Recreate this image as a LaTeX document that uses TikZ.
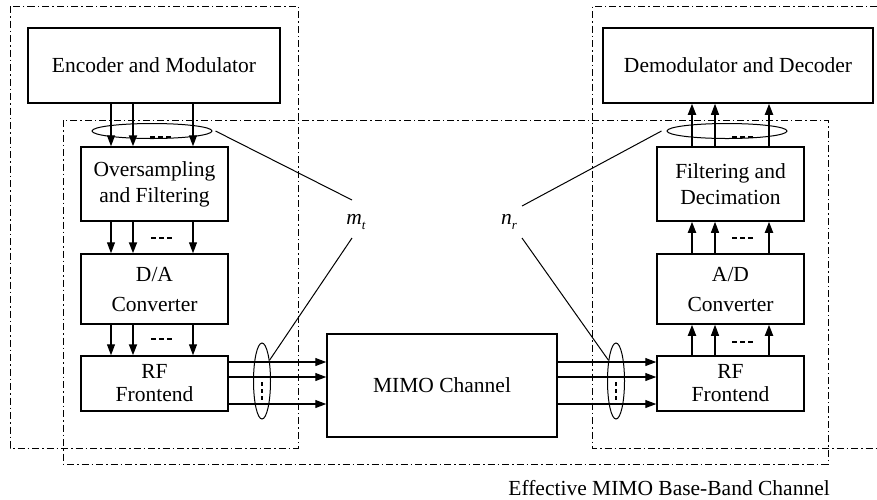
\documentclass[tikz,border=0pt]{standalone}
\usepackage{fontspec}
\setmainfont{Liberation Serif}
\usetikzlibrary{arrows.meta,shapes.geometric}

\tikzset{
  block/.style={draw, line width=1.5pt, inner sep=0pt, align=center,
    font=\fontsize{21.5}{26}\selectfont},
  dashdot/.style={line width=0.9pt, dash pattern=on 7pt off 3pt on 1.5pt off 3pt},
  sig/.style={line width=1.1pt, -{Triangle[length=11pt,width=8pt]}},
  sigthick/.style={sig, line width=1.8pt},
  bundle/.style={draw, ellipse, line width=1pt, inner sep=0pt},
  pointer/.style={line width=1pt},
  dots/.style={line width=2pt, dash pattern=on 5pt off 3pt},
  vdots/.style={line width=2pt, dash pattern=on 4pt off 3pt},
  lbl/.style={font=\fontsize{21.5}{26}\selectfont, inner sep=0pt}
}

\begin{document}
\begin{tikzpicture}[x=1pt,y=-1pt]
\useasboundingbox (0,0) rectangle (877,499);

% dash-dotted grouping frames
\draw[dashdot] (10,6) rectangle (298,448);
\draw[dashdot] (63,120) rectangle (828,464);
\draw[dashdot] (877,6) -- (592,6) -- (592,448) -- (877,448);

% transmitter chain
\node[block, minimum width=252pt, minimum height=75pt] (enc) at (154,65.5) {Encoder and Modulator};
\node[block, minimum width=147pt, minimum height=74pt] (ovs) at (154.5,184) {Oversampling\\and Filtering};
\node[block, minimum width=147pt, minimum height=70pt] (dac) at (154.5,289) {D/A\\[4pt]Converter};
\node[block, minimum width=147pt, minimum height=55pt] (rft) at (154.5,383.5) {RF\\[-3pt]Frontend};

% channel
\node[block, minimum width=230pt, minimum height=103pt] (mimo) at (442,385.5) {MIMO Channel};

% receiver chain
\node[block, minimum width=270pt, minimum height=75pt] (dec) at (738,65.5) {Demodulator and Decoder};
\node[block, minimum width=147pt, minimum height=74pt] (fdec) at (730.5,184) {Filtering and\\Decimation};
\node[block, minimum width=147pt, minimum height=70pt] (adc) at (730.5,289) {A/D\\[4pt]Converter};
\node[block, minimum width=147pt, minimum height=55pt] (rfr) at (730.5,383.5) {RF\\[-3pt]Frontend};

% column / row positions of the parallel streams
\coordinate (t1) at (111,0);
\coordinate (t2) at (133,0);
\coordinate (t3) at (193,0);
\coordinate (r1) at (692,0);
\coordinate (r2) at (715,0);
\coordinate (r3) at (769,0);
\coordinate (h1) at (0,362);
\coordinate (h2) at (0,377);
\coordinate (h3) at (0,404);

% transmitter streams
\draw[sig]      (enc.south -| t1) -- (ovs.north -| t1);
\draw[sigthick] (enc.south -| t2) -- (ovs.north -| t2);
\draw[sig]      (enc.south -| t3) -- (ovs.north -| t3);
\draw[sig]      (ovs.south -| t1) -- (dac.north -| t1);
\draw[sigthick] (ovs.south -| t2) -- (dac.north -| t2);
\draw[sig]      (ovs.south -| t3) -- (dac.north -| t3);
\draw[sig]      (dac.south -| t1) -- (rft.north -| t1);
\draw[sigthick] (dac.south -| t2) -- (rft.north -| t2);
\draw[sig]      (dac.south -| t3) -- (rft.north -| t3);

% receiver streams
\draw[sigthick] (fdec.north -| r1) -- (dec.south -| r1);
\draw[sig]      (fdec.north -| r2) -- (dec.south -| r2);
\draw[sigthick] (fdec.north -| r3) -- (dec.south -| r3);
\draw[sigthick] (adc.north -| r1) -- (fdec.south -| r1);
\draw[sig]      (adc.north -| r2) -- (fdec.south -| r2);
\draw[sigthick] (adc.north -| r3) -- (fdec.south -| r3);
\draw[sigthick] (rfr.north -| r1) -- (adc.south -| r1);
\draw[sig]      (rfr.north -| r2) -- (adc.south -| r2);
\draw[sigthick] (rfr.north -| r3) -- (adc.south -| r3);

% antenna streams
\foreach \h in {h1,h2,h3}{
  \draw[sig] (rft.east |- \h) -- (mimo.west |- \h);
  \draw[sig] (mimo.east |- \h) -- (rfr.west |- \h);
}

% "more streams" marks
\draw[dots] (150,137) -- (172,137);
\draw[dots] (151,238) -- (173,238);
\draw[dots] (151,339) -- (173,339);
\draw[dots] (732,137) -- (754,137);
\draw[dots] (732,238) -- (754,238);
\draw[dots] (732,342) -- (754,342);
\draw[vdots] (262,382) -- (262,401);
\draw[vdots] (616,382) -- (616,401);

% stream bundles
\node[bundle, minimum width=120pt, minimum height=15pt] (bTL) at (152,131) {};
\node[bundle, minimum width=120pt, minimum height=15pt] (bTR) at (727,131) {};
\node[bundle, minimum width=17pt, minimum height=76pt] (bBL) at (262,381) {};
\node[bundle, minimum width=17pt, minimum height=76pt] (bBR) at (616,381) {};

% stream-count labels
\node[lbl] (mt) at (356,222) {\itshape m\raisebox{-5pt}{\fontsize{13}{13}\selectfont t}};
\node[lbl] (nr) at (509,222) {\itshape n\raisebox{-5pt}{\fontsize{13}{13}\selectfont r}};
\coordinate (mtA) at (352,200);
\coordinate (mtB) at (352,238);
\coordinate (nrA) at (522,206);
\coordinate (nrB) at (522,238);
\draw[pointer] ([xshift=3pt]bTL.east) -- (mtA);
\draw[pointer] (mtB) -- (bBL.70);
\draw[pointer] (nrA) -- ([xshift=-5pt]bTR.west);
\draw[pointer] (nrB) -- (bBR.110);

% caption
\node[lbl, anchor=east] (cap) at (830,488) {Effective MIMO Base-Band Channel};
\end{tikzpicture}
\end{document}
